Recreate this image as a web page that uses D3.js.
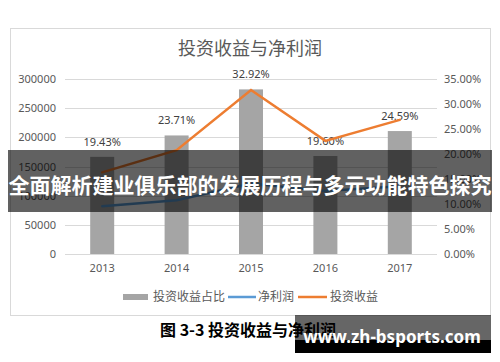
<!DOCTYPE html>
<html lang="zh">
    <head>
        <meta charset="utf-8">
        <title>投资收益与净利润</title>
        <script src="https://d3js.org/d3.v7.min.js"></script>
        <style type="text/css">
            body { margin: 0; background: #fff; }
            svg text { font-family: "Noto Sans", "Noto Sans CJK SC", sans-serif; }
            .cjk { font-family: "Noto Sans CJK SC", sans-serif !important; }
        </style>
    </head>
    <body>
        <svg width="500" height="362"></svg>
        <script type="text/javascript">

            // data
            const years = ["2013", "2014", "2015", "2016", "2017"];
            const ratio = [19.43, 23.71, 32.92, 19.60, 24.59];          // 投资收益占比 (%), right axis
            const netProfit = [82000, 92000, 121000, 108000, 116000];   // 净利润, left axis
            const invIncome = [140000, 178000, 281000, 194000, 230000]; // 投资收益, left axis
            const leftTicks = [0, 50000, 100000, 150000, 200000, 250000, 300000];
            const rightTicks = [0, 5, 10, 15, 20, 25, 30, 35];

            const svg = d3.select("svg");
            const plotL = 65, plotR = 437, plotT = 79, plotB = 254;

            const x = d3.scaleBand().domain(years).range([plotL, plotR]);
            const yL = d3.scaleLinear().domain([0, 300000]).range([plotB, plotT]);
            const yR = d3.scaleLinear().domain([0, 35]).range([plotB, plotT]);

            // chart frame
            svg.append("rect")
               .attr("x", 10.5).attr("y", 28.5)
               .attr("width", 480).attr("height", 287)
               .attr("fill", "#fff").attr("stroke", "#d9d9d9");

            svg.append("text")
               .attr("class", "cjk")
               .attr("x", 250).attr("y", 55)
               .attr("text-anchor", "middle")
               .attr("font-size", 18)
               .attr("fill", "#595959")
               .text("投资收益与净利润");

            // gridlines
            svg.selectAll("line.grid")
               .data(leftTicks)
               .enter()
               .append("line")
               .attr("x1", plotL).attr("x2", plotR)
               .attr("y1", d => Math.round(yL(d)) + 0.5)
               .attr("y2", d => Math.round(yL(d)) + 0.5)
               .attr("stroke", "#d9d9d9");

            // left axis labels
            svg.selectAll("text.yl")
               .data(leftTicks)
               .enter()
               .append("text")
               .attr("x", 56).attr("y", d => yL(d) + 4)
               .attr("text-anchor", "end")
               .attr("font-size", 11)
               .attr("fill", "#595959")
               .text(d => d);

            // right axis labels
            svg.selectAll("text.yr")
               .data(rightTicks)
               .enter()
               .append("text")
               .attr("x", 444).attr("y", d => yR(d) + 4)
               .attr("font-size", 11)
               .attr("fill", "#595959")
               .text(d => d.toFixed(2) + "%");

            // x labels
            svg.selectAll("text.xl")
               .data(years)
               .enter()
               .append("text")
               .attr("x", d => x(d) + x.bandwidth() / 2)
               .attr("y", 272)
               .attr("text-anchor", "middle")
               .attr("font-size", 11)
               .attr("fill", "#595959")
               .text(d => d);

            // bars
            const bw = 24;
            svg.selectAll("rect.bar")
               .data(ratio)
               .enter()
               .append("rect")
               .attr("x", (d, i) => x(years[i]) + x.bandwidth() / 2 - bw / 2)
               .attr("y", d => yR(d))
               .attr("width", bw)
               .attr("height", d => plotB - yR(d))
               .attr("fill", "#a5a5a5");

            svg.selectAll("text.lab")
               .data(ratio)
               .enter()
               .append("text")
               .attr("x", (d, i) => x(years[i]) + x.bandwidth() / 2)
               .attr("y", d => yR(d) - 11)
               .attr("text-anchor", "middle")
               .attr("font-size", 11)
               .attr("fill", "#404040")
               .text(d => d.toFixed(2) + "%");

            // lines
            const line = d3.line()
                           .x((d, i) => x(years[i]) + x.bandwidth() / 2)
                           .y(d => yL(d));

            svg.append("path")
               .attr("d", line(netProfit))
               .attr("fill", "none")
               .attr("stroke", "#5b9bd5")
               .attr("stroke-width", 2.5)
               .attr("stroke-linecap", "round");

            svg.append("path")
               .attr("d", line(invIncome))
               .attr("fill", "none")
               .attr("stroke", "#ed7d31")
               .attr("stroke-width", 2.5)
               .attr("stroke-linecap", "round");

            // legend
            const lg = svg.append("g").attr("class", "legend");
            lg.append("rect").attr("x", 123).attr("y", 294).attr("width", 25).attr("height", 6).attr("fill", "#a5a5a5");
            lg.append("text").attr("class", "cjk").attr("x", 153).attr("y", 301).attr("font-size", 12).attr("fill", "#595959").text("投资收益占比");
            lg.append("line").attr("x1", 228).attr("x2", 256).attr("y1", 297).attr("y2", 297).attr("stroke", "#5b9bd5").attr("stroke-width", 2.5);
            lg.append("text").attr("class", "cjk").attr("x", 258).attr("y", 301).attr("font-size", 12).attr("fill", "#595959").text("净利润");
            lg.append("line").attr("x1", 298).attr("x2", 327).attr("y1", 297).attr("y2", 297).attr("stroke", "#ed7d31").attr("stroke-width", 2.5);
            lg.append("text").attr("class", "cjk").attr("x", 330).attr("y", 301).attr("font-size", 12).attr("fill", "#595959").text("投资收益");

            // caption under the chart
            svg.append("text")
               .attr("class", "cjk")
               .attr("x", 160).attr("y", 336)
               .attr("font-size", 16)
               .attr("font-weight", "bold")
               .attr("fill", "#000")
               .text("图 3-3 投资收益与净利润");

            // banner overlay
            svg.append("rect")
               .attr("x", 8).attr("y", 150)
               .attr("width", 484).attr("height", 62)
               .attr("fill", "#000").attr("fill-opacity", 0.62);
            svg.append("text")
               .attr("class", "cjk")
               .attr("x", 250).attr("y", 193)
               .attr("text-anchor", "middle")
               .attr("font-size", 21)
               .attr("font-weight", "bold")
               .attr("fill", "#fff")
               .text("全面解析建业俱乐部的发展历程与多元功能特色探究");

            // watermark
            svg.append("rect")
               .attr("x", 295).attr("y", 315)
               .attr("width", 196).attr("height", 25)
               .attr("fill", "#000").attr("fill-opacity", 0.6);
            svg.append("rect")
               .attr("x", 295).attr("y", 340)
               .attr("width", 196).attr("height", 13)
               .attr("fill", "#000");
            svg.append("text")
               .attr("x", 392).attr("y", 343)
               .attr("text-anchor", "middle")
               .attr("font-size", 17)
               .attr("font-weight", "bold")
               .attr("fill", "#fff")
               .text("www.zh-bsports.com");

        </script>
    </body>
</html>
